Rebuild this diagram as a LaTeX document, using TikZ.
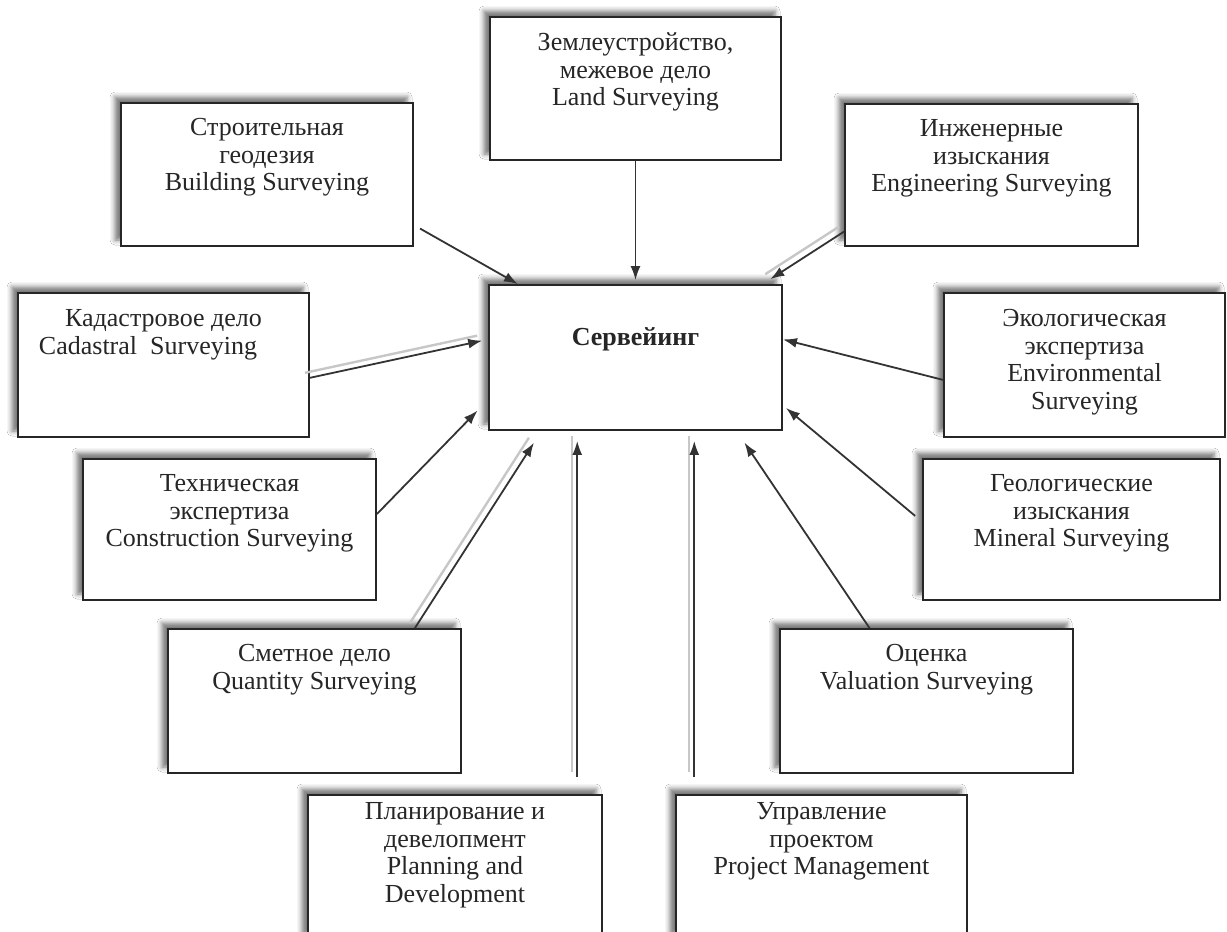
\documentclass[tikz,border=0pt]{standalone}
\usepackage{fontspec}
\setmainfont{Liberation Serif}
\usetikzlibrary{arrows.meta,calc,shadows.blur}
\begin{document}
\begin{tikzpicture}[x=1pt,y=-1pt,
  box/.style={draw=black!85, line width=1.9pt, fill=white,
    blur shadow={shadow xshift=-6pt, shadow yshift=6pt, shadow blur radius=5pt, shadow opacity=55}},
  txt/.style={align=center, anchor=north, inner sep=0pt, font=\fontsize{26}{27.5}\selectfont, text=black!85},
  arr/.style={draw=black!80, line width=1.8pt, -{Latex[length=14pt,width=10pt]}},
  sh/.style={preaction={draw=black!22, line width=2.4pt, -, transform canvas={xshift=-5pt,yshift=5pt}}}
]
\useasboundingbox (0,0) rectangle (1227,932);
\fill[white] (0,0) rectangle (1227,932);
\clip (0,0) rectangle (1227,932);

% boxes
\node[box, minimum width=291pt, minimum height=143pt] (land) at (635.5,88.5) {};
\node[box, minimum width=292pt, minimum height=143pt] (bld) at (267,174.5) {};
\node[box, minimum width=293pt, minimum height=142pt] (eng) at (991.5,175) {};
\node[box, minimum width=293pt, minimum height=145pt] (srv) at (635.5,357.5) {};
\node[box, minimum width=291pt, minimum height=144pt] (cad) at (163.5,365) {};
\node[box, minimum width=281pt, minimum height=144pt] (env) at (1084.5,365) {};
\node[box, minimum width=293pt, minimum height=141pt] (con) at (229.5,529.5) {};
\node[box, minimum width=297pt, minimum height=141pt] (mnr) at (1071.5,529.5) {};
\node[box, minimum width=293pt, minimum height=144pt] (qty) at (314.5,701) {};
\node[box, minimum width=293pt, minimum height=144pt] (val) at (926.5,701) {};
\node[box, minimum width=294pt, minimum height=145pt] (pln) at (455,867.5) {};
\node[box, minimum width=291pt, minimum height=145pt] (prj) at (821.5,867.5) {};

% texts
\node[txt, yshift=-16.5pt] (landt) at (land.north) {Землеустройство,\\межевое дело\\Land Surveying};
\node[txt, yshift=-16.5pt] (bldt) at (bld.north) {Строительная\\геодезия\\Building Surveying};
\node[txt, yshift=-16.5pt] (engt) at (eng.north) {Инженерные\\изыскания\\Engineering Surveying};
\node[anchor=base, inner sep=0pt, font=\bfseries\fontsize{26}{27.5}\selectfont, text=black!85, yshift=-61pt] (srvt) at (srv.north) {Сервейинг};
\node[txt, yshift=-17.5pt] (cadt) at (cad.north) {Кадастровое дело\\Cadastral~~Surveying\hspace*{31pt}};
\node[txt, yshift=-17.5pt] (envt) at (env.north) {Экологическая\\экспертиза\\Environmental\\Surveying};
\node[txt, yshift=-16.5pt] (cont) at (con.north) {Техническая\\экспертиза\\Construction Surveying};
\node[txt, yshift=-16.5pt] (mnrt) at (mnr.north) {Геологические\\изыскания\\Mineral Surveying};
\node[txt, yshift=-16.5pt] (qtyt) at (qty.north) {Сметное дело\\Quantity Surveying};
\node[txt, yshift=-16.5pt] (valt) at (val.north) {Оценка\\Valuation Surveying};
\node[txt, yshift=-8.5pt] (plnt) at (pln.north) {Планирование и\\девелопмент\\Planning and\\Development};
\node[txt, yshift=-8.5pt] (prjt) at (prj.north) {Управление\\проектом\\Project Management};

% connectors
\draw[arr, shorten >=4pt] (land.south) -- (srv.north);
\draw[arr, shorten <=7pt] (bld.-19.4) -- (srv.148.9);
\draw[arr, sh, shorten >=9pt] (eng.201.3) -- (srv.30.4);
\draw[arr, sh, shorten >=6pt] (cad.-5.85) -- (srv.173.46);
\draw[arr] (env.186.1) -- (srv.7.58);
\draw[arr, shorten >=15pt] (con.6.8) -- (srv.196.2);
\draw[arr, shorten <=9pt, shorten >=4pt] (mnr.177.65) -- (srv.-18.1);
\draw[arr, sh, shorten >=14pt] (qty.36.3) -- (srv.218.3);
\draw[arr, shorten >=14pt] (val.128.3) -- (srv.-36.4);
\draw[arr, sh, shorten <=17pt, shorten >=10pt] (pln.31.35) -- (pln.31.35 |- srv.south);
\draw[arr, sh, shorten <=17pt, shorten >=10pt] (prj.150) -- (prj.150 |- srv.south);
\end{tikzpicture}
\end{document}
